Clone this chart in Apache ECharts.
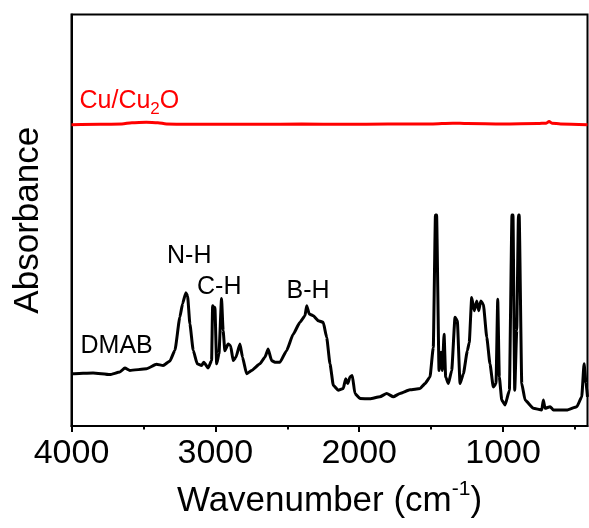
<!DOCTYPE html>
<html>
<head>
<meta charset="utf-8">
<script src="https://cdn.jsdelivr.net/npm/echarts@6/dist/echarts.min.js"></script>
<style>
  html, body { margin: 0; padding: 0; background: #fff; }
  #chart { width: 589px; height: 528px; }
</style>
</head>
<body>
<div id="chart"></div>
<script>
// FTIR spectra: DMAB reference and Cu/Cu2O sample (offset upward)
const dmabWavenumber = [4000, 3989, 3850, 3734, 3664, 3629, 3594, 3478, 3409, 3363, 3316, 3281, 3247, 3228, 3205, 3193, 3177, 3154, 3126, 3096, 3080, 3050, 3026, 3019, 3010, 3003, 2991, 2975, 2957, 2946, 2934, 2911, 2894, 2876, 2857, 2829, 2811, 2783, 2748, 2690, 2656, 2633, 2609, 2586, 2551, 2505, 2459, 2412, 2377, 2365, 2347, 2319, 2285, 2250, 2226, 2203, 2180, 2146, 2111, 2094, 2080, 2064, 2048, 2030, 1995, 1925, 1856, 1809, 1763, 1716, 1647, 1577, 1543, 1508, 1485, 1470, 1462, 1445, 1431, 1422, 1410, 1399, 1380, 1357, 1334, 1318, 1299, 1276, 1248, 1235, 1218, 1200, 1183, 1169, 1155, 1137, 1113, 1091, 1068, 1049, 1037, 1026, 1009, 986, 956, 938, 931, 919, 905, 893, 888, 870, 847, 789, 731, 720, 708, 673, 650, 557, 487, 453, 437, 423, 413];
const dmabAbsorbance = [12.7, 12.7, 12.9, 12.5, 13.1, 14.1, 13.5, 13.9, 15.0, 14.7, 15.8, 18.4, 26.4, 29.7, 32.4, 31.6, 24.8, 18.4, 15.1, 14.7, 15.5, 14.1, 15.9, 29.2, 28.8, 28.8, 15.1, 17.5, 31.0, 23.2, 18.3, 19.9, 19.5, 15.9, 16.7, 19.9, 16.7, 12.7, 13.5, 15.1, 16.7, 18.7, 15.9, 15.5, 15.5, 18.3, 22.3, 25.2, 26.8, 29.2, 27.2, 26.8, 25.6, 25.2, 21.5, 15.1, 9.9, 8.7, 9.1, 11.5, 10.3, 11.9, 12.3, 7.9, 6.7, 6.6, 7.1, 7.9, 7.1, 7.9, 8.8, 9.1, 10.3, 11.9, 19.1, 51.3, 51.3, 13.5, 17.9, 13.5, 22.3, 11.9, 10.3, 13.5, 26.4, 25.6, 10.3, 12.7, 18.3, 20.3, 31.2, 28.0, 30.4, 28.0, 30.4, 29.6, 21.5, 15.1, 9.5, 10.3, 30.8, 11.9, 6.3, 5.1, 8.7, 51.3, 51.3, 8.7, 23.2, 51.3, 51.3, 10.3, 6.3, 4.3, 3.9, 6.3, 4.3, 4.7, 3.9, 3.9, 4.7, 7.1, 15.1, 10.3, 7.1];

const cuWavenumber = [4000, 3800, 3650, 3580, 3480, 3400, 3340, 3200, 3000, 2700, 2400, 2100, 1800, 1500, 1350, 1250, 1000, 760, 700, 680, 660, 600, 413];
const cuAbsorbance = [73.2, 73.3, 73.4, 73.7, 73.8, 73.7, 73.4, 73.3, 73.3, 73.3, 73.4, 73.3, 73.4, 73.4, 73.6, 73.5, 73.4, 73.5, 73.6, 74.0, 73.6, 73.4, 73.2];

const xMin = 413;
const xMax = 4000;
const majorTicks = [4000, 3000, 2000, 1000];
const minorTicks = [3500, 2500, 1500, 500];

// Peak assignment labels
const peakLabels = ['DMAB', 'N-H', 'C-H', 'B-H'];

const FONT = '"Liberation Sans", Arial, sans-serif';

function pairs(xs, ys) {
  return xs.map((x, i) => [x, ys[i]]);
}

const chart = echarts.init(document.getElementById('chart'), null, { renderer: 'canvas' });

const option = {
  animation: false,
  backgroundColor: '#ffffff',
  grid: {
    left: 71.5, right: 1.5, top: 14.5, bottom: 98.5,
    show: true, borderColor: '#000', borderWidth: 2, backgroundColor: 'transparent'
  },
  xAxis: [
    {
      type: 'value', min: xMin, max: xMax, inverse: true,
      position: 'bottom',
      name: 'Wavenumber (cm{sup|-1})',
      nameLocation: 'middle',
      nameGap: 53,
      nameTextStyle: {
        fontFamily: FONT, fontSize: 35, color: '#000', lineHeight: 44,
        rich: { sup: { fontFamily: FONT, fontSize: 21, color: '#000', lineHeight: 44, verticalAlign: 'top' } }
      },
      axisLine: { show: true, lineStyle: { color: '#000', width: 2 } },
      axisTick: { show: true, inside: false, length: 6, lineStyle: { color: '#000', width: 2 }, customValues: majorTicks },
      axisLabel: {
        show: true, margin: 11, fontFamily: FONT, fontSize: 34, color: '#000',
        customValues: majorTicks,
        formatter: (v) => String(v)
      },
      splitLine: { show: false }
    },
    {
      type: 'value', min: xMin, max: xMax, inverse: true,
      position: 'bottom',
      axisLine: { show: false },
      axisTick: { show: true, inside: false, length: 3.5, lineStyle: { color: '#000', width: 2 }, customValues: minorTicks },
      axisLabel: { show: false, customValues: minorTicks },
      splitLine: { show: false }
    }
  ],
  yAxis: {
    type: 'value', min: 0, max: 100,
    name: 'Absorbance',
    nameLocation: 'middle',
    nameGap: 26,
    nameTextStyle: { fontFamily: FONT, fontSize: 35, color: '#000' },
    axisLine: { show: true, lineStyle: { color: '#000', width: 2 } },
    axisTick: { show: false },
    axisLabel: { show: false },
    splitLine: { show: false }
  },
  series: [
    {
      name: 'DMAB', type: 'line', xAxisIndex: 0,
      data: pairs(dmabWavenumber, dmabAbsorbance),
      showSymbol: false, smooth: 0.15, smoothMonotone: 'x',
      lineStyle: { color: '#000', width: 3, join: 'round' },
      z: 3
    },
    {
      name: 'Cu/Cu2O', type: 'line', xAxisIndex: 0,
      data: pairs(cuWavenumber, cuAbsorbance),
      showSymbol: false, smooth: 0.3, smoothMonotone: 'x',
      lineStyle: { color: '#ff0000', width: 3 },
      z: 3
    }
  ],
  graphic: [
    { type: 'text', x: 80.5, y: 346, style: { text: peakLabels[0], fontFamily: FONT, fontSize: 25, fill: '#000', align: 'left', verticalAlign: 'middle' } },
    { type: 'text', x: 167, y: 256, style: { text: peakLabels[1], fontFamily: FONT, fontSize: 25, fill: '#000', align: 'left', verticalAlign: 'middle' } },
    { type: 'text', x: 197, y: 287, style: { text: peakLabels[2], fontFamily: FONT, fontSize: 25, fill: '#000', align: 'left', verticalAlign: 'middle' } },
    { type: 'text', x: 286.5, y: 291.5, style: { text: peakLabels[3], fontFamily: FONT, fontSize: 25, fill: '#000', align: 'left', verticalAlign: 'middle' } },
    {
      type: 'text', x: 79.5, y: 101,
      style: {
        text: 'Cu/Cu{sub|2}O', fontFamily: FONT, fontSize: 25, lineHeight: 34, fill: '#ff0000',
        align: 'left', verticalAlign: 'middle',
        rich: { sub: { fontFamily: FONT, fontSize: 17, lineHeight: 34, fill: '#ff0000', verticalAlign: 'bottom' } }
      }
    }
  ]
};

chart.setOption(option);
</script>
</body>
</html>
